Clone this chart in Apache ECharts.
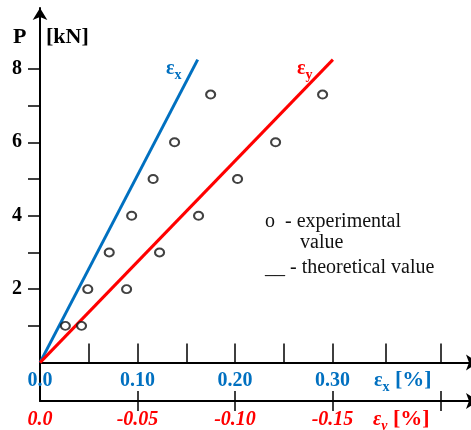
<!DOCTYPE html>
<html><head><meta charset="utf-8">
<script src="https://cdn.jsdelivr.net/npm/echarts@6/dist/echarts.min.js"></script>
<style>html,body{margin:0;padding:0;background:#fff}#c{width:471px;height:430px}</style>
</head><body><div id="c"></div>
<script>
// ---- data ----
const loadKN   = [1, 2, 3, 4, 5, 6, 7.3];                                   // P [kN] of experimental points
const expEpsX  = [0.026, 0.049, 0.071, 0.094, 0.116, 0.138, 0.175];          // εx [%]
const expEpsY  = [-0.0213, -0.0444, -0.0613, -0.0813, -0.1013, -0.1208, -0.1449]; // εy [%]
const theoLoad = [0, 8.25];
const theoEpsX = [0, 0.1617];
const theoEpsY = [0, -0.1502];
const yTickVals  = [1, 2, 3, 4, 5, 6, 7, 8];
const yLabelVals = [2, 4, 6, 8];
const xTickVals  = [0.05, 0.10, 0.15, 0.20, 0.25, 0.30, 0.355, 0.411];
const xLabelVals = [0, 0.1, 0.2, 0.3];
const yyTickVals  = [-0.05, -0.10, -0.15, -0.2055];
const yyLabelVals = [0, -0.05, -0.10, -0.15];

const BLUE = '#0070C0', RED = '#FF0000', BLACK = '#000';
const SERIF = '"Liberation Serif","Times New Roman",serif';
const X_MAX = 0.442, Y_MIN = -1.046, Y_MAX = 9.657;
const GRID_TOP = 8, GRID_BOTTOM = 28, H = 430;
// pixel distance from grid bottom up to P = 0 (where the εx axis sits)
const zeroOffset = -(H - GRID_TOP - GRID_BOTTOM) * (0 - Y_MIN) / (Y_MAX - Y_MIN);

const zip = (xs, ys) => xs.map((x, i) => [x, ys[i]]);
const fmt = v => (v === 0 ? '0.0' : v.toFixed(2));

const chart = echarts.init(document.getElementById('c'), null, {renderer: 'canvas'});

chart.setOption({
  animation: false,
  backgroundColor: '#fff',
  grid: {left: 40, right: 0, top: GRID_TOP, bottom: GRID_BOTTOM, containLabel: false},
  xAxis: [
    { // εx axis on the P = 0 line
      type: 'value', min: 0, max: X_MAX, position: 'bottom', offset: zeroOffset,
      axisLine: {show: true, onZero: false, symbol: ['none', 'arrow'], symbolSize: [12, 12], symbolOffset: [0, 7],
        lineStyle: {color: BLACK, width: 2}},
      axisTick: {show: true, inside: true, length: 19, customValues: xTickVals, lineStyle: {color: BLACK, width: 1.5}},
      axisLabel: {show: true, customValues: xLabelVals, formatter: fmt, margin: 8,
        color: BLUE, fontWeight: 'bold', fontSize: 20, fontFamily: SERIF},
      splitLine: {show: false}
    },
    { // εy axis at the bottom
      type: 'value', min: -X_MAX / 2, max: 0, inverse: true, position: 'bottom',
      axisLine: {show: true, onZero: false, symbol: ['none', 'arrow'], symbolSize: [12, 12], symbolOffset: [0, 7],
        lineStyle: {color: BLACK, width: 2}},
      axisTick: {show: true, inside: false, length: 10, customValues: yyTickVals, lineStyle: {color: BLACK, width: 1.5}},
      axisLabel: {show: true, customValues: yyLabelVals, formatter: fmt, margin: 9,
        color: RED, fontWeight: 'bold', fontStyle: 'italic', fontSize: 20, fontFamily: SERIF},
      splitLine: {show: false}
    },
    { // upper half of the εy ticks
      type: 'value', min: -X_MAX / 2, max: 0, inverse: true, position: 'bottom',
      axisLine: {show: false, onZero: false},
      axisTick: {show: true, inside: true, length: 10, customValues: yyTickVals, lineStyle: {color: BLACK, width: 1.5}},
      axisLabel: {show: false},
      splitLine: {show: false}
    }
  ],
  yAxis: {
    type: 'value', min: Y_MIN, max: Y_MAX,
    axisLine: {show: true, onZero: false, symbol: ['none', 'arrow'], symbolSize: [11, 12], lineStyle: {color: BLACK, width: 2}},
    axisTick: {show: true, inside: false, length: 12, customValues: yTickVals, lineStyle: {color: BLACK, width: 1.5}},
    axisLabel: {show: true, customValues: yLabelVals, margin: 18,
      color: BLACK, fontWeight: 'bold', fontSize: 20, fontFamily: SERIF},
    splitLine: {show: false}
  },
  series: [
    {type: 'line', xAxisIndex: 0, data: zip(theoEpsX, theoLoad), symbol: 'none',
     lineStyle: {color: BLUE, width: 3}, z: 3},
    {type: 'line', xAxisIndex: 1, data: zip(theoEpsY, theoLoad), symbol: 'none',
     lineStyle: {color: RED, width: 3}, z: 3},
    {type: 'scatter', xAxisIndex: 0, data: zip(expEpsX, loadKN), symbol: 'emptyCircle', symbolSize: [9, 8],
     itemStyle: {color: '#111', borderColor: '#111', borderWidth: 1.5}, z: 4},
    {type: 'scatter', xAxisIndex: 1, data: zip(expEpsY, loadKN), symbol: 'emptyCircle', symbolSize: [9, 8],
     itemStyle: {color: '#111', borderColor: '#111', borderWidth: 1.5}, z: 4}
  ],
  graphic: [
    {type: 'text', x: 13, y: 37, style: {text: 'P', font: 'bold 22px ' + SERIF, fill: BLACK, verticalAlign: 'middle'}},
    {type: 'text', x: 46, y: 37, style: {text: '[kN]', font: 'bold 22px ' + SERIF, fill: BLACK, verticalAlign: 'middle'}},
    {type: 'text', x: 166, y: 69, style: {text: '{e|ε}{s|x}', fill: BLUE, verticalAlign: 'middle',
      rich: {e: {fontSize: 20, fontWeight: 'bold', fontFamily: SERIF, fill: BLUE, verticalAlign: 'bottom'},
             s: {fontSize: 14, fontWeight: 'bold', fontFamily: SERIF, fill: BLUE, verticalAlign: 'bottom', padding: [0, 0, -3, 0]}}}},
    {type: 'text', x: 297, y: 69, style: {text: '{e|ε}{s|y}', fill: RED, verticalAlign: 'middle',
      rich: {e: {fontSize: 20, fontWeight: 'bold', fontFamily: SERIF, fill: RED, verticalAlign: 'bottom'},
             s: {fontSize: 14, fontWeight: 'bold', fontFamily: SERIF, fill: RED, verticalAlign: 'bottom', padding: [0, 0, -3, 0]}}}},
    {type: 'text', x: 374, y: 380, style: {text: '{e|ε}{s|x}{b| [%]}', fill: BLUE, verticalAlign: 'middle',
      rich: {e: {fontSize: 20, fontWeight: 'bold', fontFamily: SERIF, fill: BLUE, verticalAlign: 'bottom'},
             s: {fontSize: 14, fontWeight: 'bold', fontFamily: SERIF, fill: BLUE, verticalAlign: 'bottom', padding: [0, 0, -3, 0]},
             b: {fontSize: 22, fontWeight: 'bold', fontFamily: SERIF, fill: BLUE, verticalAlign: 'bottom'}}}},
    {type: 'text', x: 373, y: 419, style: {text: '{e|ε}{s|y}{b| [%]}', fill: RED, verticalAlign: 'middle',
      rich: {e: {fontSize: 20, fontWeight: 'bold', fontStyle: 'italic', fontFamily: SERIF, fill: RED, verticalAlign: 'bottom'},
             s: {fontSize: 14, fontWeight: 'bold', fontStyle: 'italic', fontFamily: SERIF, fill: RED, verticalAlign: 'bottom', padding: [0, 0, -3, 0]},
             b: {fontSize: 22, fontWeight: 'bold', fontFamily: SERIF, fill: RED, verticalAlign: 'bottom'}}}},
    {type: 'text', x: 265, y: 222, style: {text: 'o  - experimental', font: '20px ' + SERIF, fill: '#111', verticalAlign: 'middle'}},
    {type: 'text', x: 300, y: 243, style: {text: 'value', font: '20px ' + SERIF, fill: '#111', verticalAlign: 'middle'}},
    {type: 'text', x: 265, y: 268, style: {text: '__ - theoretical value', font: '20px ' + SERIF, fill: '#111', verticalAlign: 'middle'}}
  ]
});
</script>
</body></html>
